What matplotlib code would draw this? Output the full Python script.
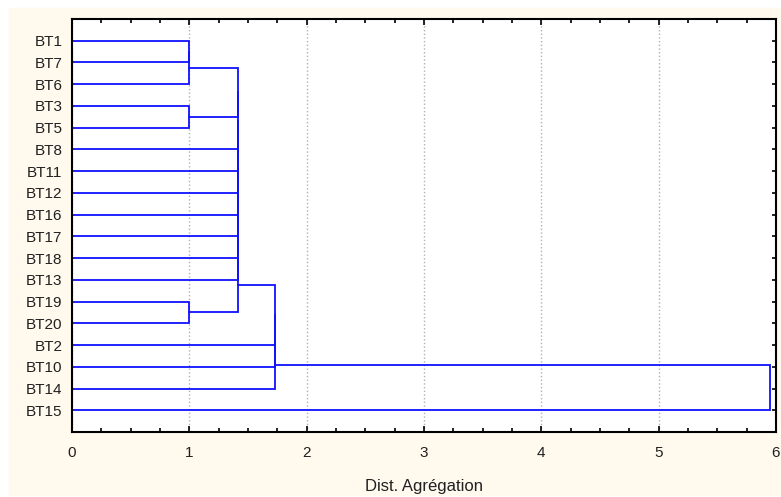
import numpy as np
import matplotlib.pyplot as plt
from matplotlib.patches import Rectangle
from matplotlib.ticker import MultipleLocator

# leaf order, top to bottom
leaves = ['BT1', 'BT7', 'BT6', 'BT3', 'BT5', 'BT8', 'BT11', 'BT12', 'BT16',
          'BT17', 'BT18', 'BT13', 'BT19', 'BT20', 'BT2', 'BT10', 'BT14', 'BT15']

# binary merges: (left, right, height); 'cN' refers to the N-th merge result
merges = [
    ('BT1', 'BT7', 1.0),
    ('c0', 'BT6', 1.0),
    ('BT3', 'BT5', 1.0),
    ('BT19', 'BT20', 1.0),
    ('c1', 'c2', 1.414),
    ('c4', 'BT8', 1.414),
    ('c5', 'BT11', 1.414),
    ('c6', 'BT12', 1.414),
    ('c7', 'BT16', 1.414),
    ('c8', 'BT17', 1.414),
    ('c9', 'BT18', 1.414),
    ('c10', 'BT13', 1.414),
    ('c11', 'c3', 1.414),
    ('c12', 'BT2', 1.732),
    ('c13', 'BT10', 1.732),
    ('c14', 'BT14', 1.732),
    ('c15', 'BT15', 5.95),
]

plt.rcParams['font.family'] = ['Liberation Sans', 'DejaVu Sans']

fig = plt.figure(figsize=(7.81, 4.97), dpi=100)
fig.patches.append(Rectangle((9 / 781, 2 / 497), 772 / 781, 487 / 497,
                             transform=fig.transFigure, color='#FFF9EE', zorder=-1))
ax = fig.add_axes([72 / 781, 65 / 497, 704 / 781, 413 / 497])

pos = {name: i + 1 for i, name in enumerate(leaves)}
hgt = {name: 0.0 for name in leaves}
for k, (a, b, h) in enumerate(merges):
    ya, yb = pos[a], pos[b]
    ax.plot([hgt[a], h, h, hgt[b]], [ya, ya, yb, yb], color='#1010FF', lw=1.3,
            solid_joinstyle='miter', clip_on=False)
    pos['c%d' % k] = (ya + yb) / 2
    hgt['c%d' % k] = h

ax.set_xlim(0, 6)
ax.set_ylim(len(leaves) + 1, 0)
ax.set_yticks(range(1, len(leaves) + 1))
ax.set_yticklabels(leaves)
ax.xaxis.set_major_locator(MultipleLocator(1))
ax.xaxis.set_minor_locator(MultipleLocator(0.25))
ax.grid(axis='x', which='major', color='#B0B0B0', ls=':', lw=1)
ax.set_axisbelow(True)

ax.tick_params(axis='x', which='both', direction='in', top=True, pad=10,
               labelsize=11, width=1.2, labelcolor='#202020')
ax.tick_params(axis='x', which='major', length=4)
ax.tick_params(axis='x', which='minor', length=3)
ax.tick_params(axis='y', direction='in', left=False, right=True, length=3,
               width=1.2, pad=7, labelsize=11, labelcolor='#202020')
for sp in ax.spines.values():
    sp.set_linewidth(1.5)

ax.set_xlabel('Dist. Agrégation', fontsize=12, labelpad=14, color='#202020')

fig.savefig('out.png', dpi=100)
